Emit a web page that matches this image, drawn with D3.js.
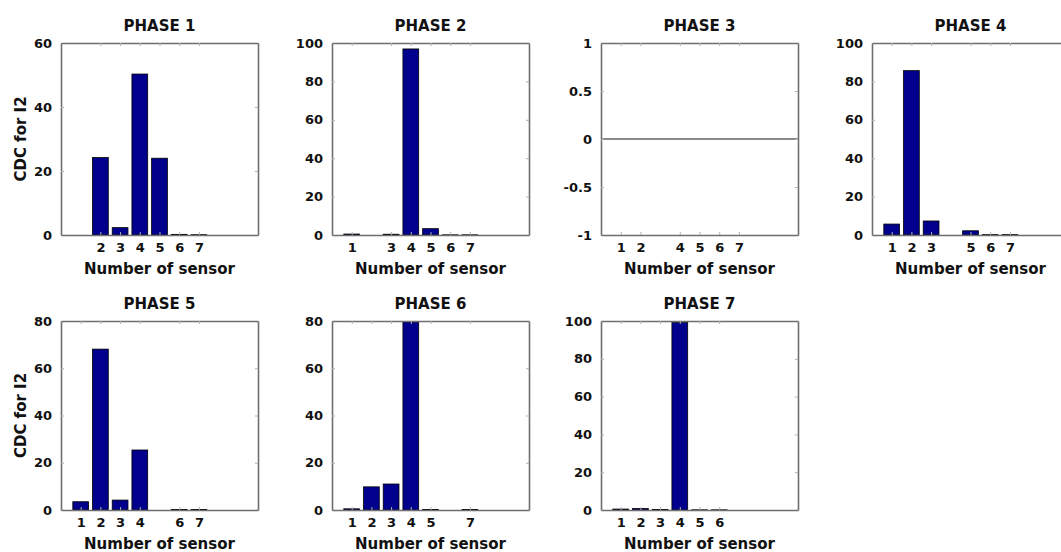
<!DOCTYPE html>
<html>
<head>
<meta charset="utf-8">
<script src="https://cdn.jsdelivr.net/npm/d3@7"></script>
<style>
  html, body { margin: 0; padding: 0; background: #fff; }
  svg { display: block; font-family: "DejaVu Sans", sans-serif; font-weight: bold; }
</style>
</head>
<body>
<svg id="chart" width="1061" height="552"></svg>
<script>
// Contribution (CDC for I2) of each sensor, one bar chart per phase
const phaseTitles = ["PHASE 1", "PHASE 2", "PHASE 3", "PHASE 4", "PHASE 5", "PHASE 6", "PHASE 7"];

const phase1Sensors = [2, 3, 4, 5, 6, 7];
const phase1Values  = [24.2, 2.3, 50.3, 24.0, 0.2, 0.1];

const phase2Sensors = [1, 3, 4, 5, 6, 7];
const phase2Values  = [0.5, 0.4, 96.9, 3.3, 0.1, 0.1];

const phase3Sensors = [1, 2, 4, 5, 6, 7];
const phase3Values  = [0, 0, 0, 0, 0, 0];

const phase4Sensors = [1, 2, 3, 5, 6, 7];
const phase4Values  = [5.7, 85.6, 7.3, 2.2, 0.2, 0.2];

const phase5Sensors = [1, 2, 3, 4, 6, 7];
const phase5Values  = [3.5, 68.1, 4.2, 25.4, 0.2, 0.2];

const phase6Sensors = [1, 2, 3, 4, 5, 7];
const phase6Values  = [0.5, 9.8, 11.0, 79.6, 0.2, 0.2];

const phase7Sensors = [1, 2, 3, 4, 5, 6];
const phase7Values  = [0.5, 0.8, 0.3, 99.3, 0.1, 0.1];

// y-axis limits and tick values for each phase
const phaseYDomains = [[0, 60], [0, 100], [-1, 1], [0, 100], [0, 80], [0, 80], [0, 100]];
const phaseYTicks = [
  [0, 20, 40, 60],
  [0, 20, 40, 60, 80, 100],
  [-1, -0.5, 0, 0.5, 1],
  [0, 20, 40, 60, 80, 100],
  [0, 20, 40, 60, 80],
  [0, 20, 40, 60, 80],
  [0, 20, 40, 60, 80, 100]
];
const xDomain = [0, 10];

const yLabelText = "CDC for I2";
const xLabelText = "Number of sensor";

const phaseSensors = [phase1Sensors, phase2Sensors, phase3Sensors, phase4Sensors, phase5Sensors, phase6Sensors, phase7Sensors];
const phaseValues  = [phase1Values, phase2Values, phase3Values, phase4Values, phase5Values, phase6Values, phase7Values];

// subplot grid geometry
const colLeft = [61, 332, 601, 872];
const rowTop = [43, 321];
const rowHeight = [192, 189];
const axWidth = 197;
const barWidth = 0.8;

const barFill = "#00008c";
const axisColor = "#6e6e6e";

const svg = d3.select("#chart");

phaseTitles.forEach((title, i) => {
  const row = Math.floor(i / 4);
  const col = i % 4;
  const left = colLeft[col];
  const top = rowTop[row];
  const h = rowHeight[row];

  const x = d3.scaleLinear().domain(xDomain).range([0, axWidth]);
  const y = d3.scaleLinear().domain(phaseYDomains[i]).range([h, 0]);

  const g = svg.append("g").attr("transform", `translate(${left},${top})`);

  // bars
  const data = phaseSensors[i].map((s, k) => ({ s, v: phaseValues[i][k] }));
  const base = Math.max(phaseYDomains[i][0], 0);
  g.selectAll("rect.bar")
    .data(data)
    .join("rect")
    .attr("class", "bar")
    .attr("x", d => x(d.s - barWidth / 2))
    .attr("width", d => x(d.s + barWidth / 2) - x(d.s - barWidth / 2))
    .attr("y", d => y(Math.max(d.v, base)))
    .attr("height", d => Math.abs(y(base) - y(d.v)))
    .attr("fill", barFill)
    .attr("stroke", "#000")
    .attr("stroke-width", 0.8);

  // zero baseline when the axis spans negative values
  if (phaseYDomains[i][0] < 0) {
    g.append("line")
      .attr("x1", 0).attr("x2", axWidth)
      .attr("y1", y(0)).attr("y2", y(0))
      .attr("stroke", "#8a8a8a").attr("stroke-width", 2);
  }

  // axes: inward ticks, labels on left/bottom, mirrored ticks on right/top
  const yAxis = d3.axisLeft(y).tickValues(phaseYTicks[i]).tickSizeInner(-3).tickSizeOuter(0).tickPadding(9)
    .tickFormat(d => String(d));
  const yAxisR = d3.axisRight(y).tickValues(phaseYTicks[i]).tickSizeInner(-3).tickSizeOuter(0).tickFormat("");
  const xAxis = d3.axisBottom(x).tickValues(phaseSensors[i]).tickSizeInner(-3).tickSizeOuter(0).tickPadding(8)
    .tickFormat(d => String(d));
  const xAxisT = d3.axisTop(x).tickValues(phaseSensors[i]).tickSizeInner(-3).tickSizeOuter(0).tickFormat("");

  const styleAxis = sel => {
    sel.selectAll(".domain").attr("stroke", axisColor).attr("stroke-width", 1.6);
    sel.selectAll(".tick line").attr("stroke", "#b0b0b0").attr("stroke-width", 1);
    sel.selectAll(".tick text").attr("fill", "#111").style("font-size", "13px").style("font-weight", "bold")
      .style("font-family", "'DejaVu Sans', sans-serif");
  };

  g.append("g").call(yAxis).call(styleAxis);
  g.append("g").attr("transform", `translate(${axWidth},0)`).call(yAxisR).call(styleAxis);
  g.append("g").attr("transform", `translate(0,${h})`).call(xAxis).call(styleAxis);
  g.append("g").call(xAxisT).call(styleAxis);

  // title
  g.append("text")
    .attr("x", axWidth / 2).attr("y", -12)
    .attr("text-anchor", "middle")
    .style("font-size", "15px").attr("fill", "#111")
    .text(title);

  // x label
  g.append("text")
    .attr("x", axWidth / 2).attr("y", h + 39)
    .attr("text-anchor", "middle")
    .style("font-size", "15px").attr("fill", "#111")
    .text(xLabelText);

  // y label on the first column
  if (col === 0) {
    g.append("text")
      .attr("transform", `translate(${26 - left},${h / 2}) rotate(-90)`)
      .attr("text-anchor", "middle")
      .style("font-size", "15px").attr("fill", "#111")
      .text(yLabelText);
  }
});
</script>
</body>
</html>
